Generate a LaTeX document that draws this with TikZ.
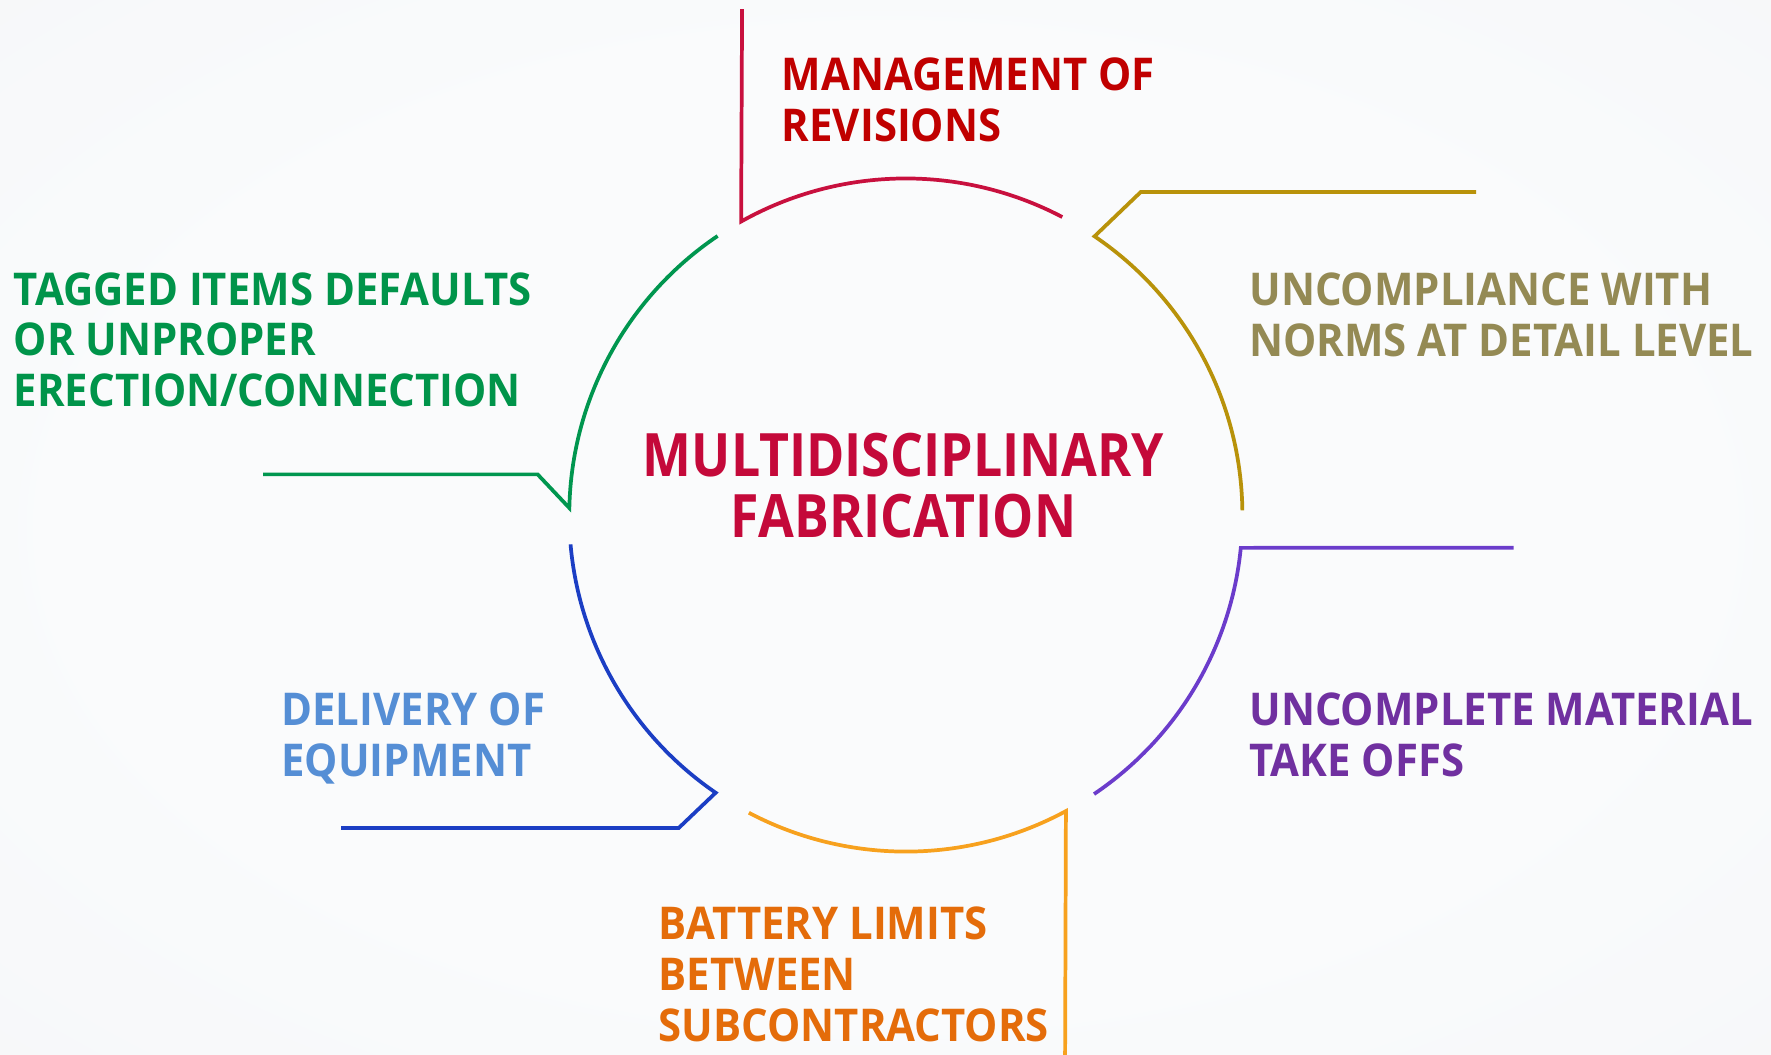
\documentclass[tikz,border=0pt]{standalone}
\usepackage{fontspec}
\setmainfont{Open Sans}
\newfontfamily\labfont{Open Sans}[FakeStretch=0.927]
\newfontfamily\ctrfont{Open Sans}[FakeStretch=0.866]
\definecolor{bgin}{HTML}{FAFBFC}
\definecolor{bgout}{HTML}{EEF0F2}
\definecolor{mgmttxt}{HTML}{C00000}
\definecolor{centertxt}{HTML}{C4093A}
\definecolor{redline}{HTML}{C8103E}
\definecolor{oliveline}{HTML}{B8920A}
\definecolor{olivetxt}{HTML}{948A54}
\definecolor{purpleline}{HTML}{6B3CCB}
\definecolor{purpletxt}{HTML}{7030A0}
\definecolor{orangeline}{HTML}{F7A11E}
\definecolor{orangetxt}{HTML}{E46C0A}
\definecolor{blueline}{HTML}{1B3EC4}
\definecolor{bluetxt}{HTML}{558ED5}
\definecolor{greenline}{HTML}{00964F}
\definecolor{greentxt}{HTML}{00944A}
\pgfdeclareradialshading{bgshade}{\pgfpoint{0bp}{0bp}}{color(0bp)=(bgin); color(22bp)=(bgin); color(72bp)=(bgout)}
\begin{document}
\begin{tikzpicture}[x=1pt,y=1pt,
  lab/.style={font=\labfont\bfseries\fontsize{40}{45}\selectfont, align=left, inner sep=0pt, anchor=north west},
  ctr/.style={font=\ctrfont\bfseries\fontsize{53}{54}\selectfont, align=center, inner sep=0pt, anchor=north, text=centertxt},
  seg/.style={line width=3.3pt, line join=miter}]
\useasboundingbox (0,0) rectangle (1568,934);
\shade[shading=bgshade] (0,0) rectangle (1568,934);
\def\R{298}
\coordinate (C) at (802,478);
% arc start points on the ring
\coordinate (a1) at ([shift={(119.3:\R)}]C);
\coordinate (a2) at ([shift={(55.9:\R)}]C);
\coordinate (a3) at ([shift={(-5.6:\R)}]C);
\coordinate (a4) at ([shift={(-61.6:\R)}]C);
\coordinate (a5) at ([shift={(-124.4:\R)}]C);
\coordinate (a6) at ([shift={(178.8:\R)}]C);
% connector points
\coordinate (t1) at (657,926);
\coordinate (o0) at (1307,764);
\coordinate (o1) at (1010,764);
\coordinate (p0) at (1340,449);
\coordinate (q0) at (943,0);
\coordinate (b0) at (302,201);
\coordinate (b1) at (601,201);
\coordinate (g0) at (233,514);
\coordinate (g1) at (476,514);
% segments
\draw[seg, redline] (t1) -- (a1) arc[start angle=119.3, end angle=62.3, radius=\R];
\draw[seg, oliveline] (o0) -- (o1) -- (a2) arc[start angle=55.9, end angle=0.8, radius=\R];
\draw[seg, purpleline] (p0) -- (a3) arc[start angle=-5.6, end angle=-56, radius=\R];
\draw[seg, orangeline] (q0) -- (a4) arc[start angle=-61.6, end angle=-117.8, radius=\R];
\draw[seg, blueline] (b0) -- (b1) -- (a5) arc[start angle=-124.4, end angle=-175, radius=\R];
\draw[seg, greenline] (g0) -- (g1) -- (a6) arc[start angle=178.8, end angle=124, radius=\R];
% labels
\node[ctr] (center) at (800,551) {MULTIDISCIPLINARY\\FABRICATION};
\node[lab, text=mgmttxt] (mgmt) at (692,883) {MANAGEMENT OF\\REVISIONS};
\node[lab, text=greentxt] (tagged) at (12,693) {TAGGED ITEMS DEFAULTS\\OR UNPROPER\\ERECTION/CONNECTION};
\node[lab, text=olivetxt] (norms) at (1106,693) {UNCOMPLIANCE WITH\\NORMS AT DETAIL LEVEL};
\node[lab, text=purpletxt] (mto) at (1106,321) {UNCOMPLETE MATERIAL\\TAKE OFFS};
\node[lab, text=bluetxt] (delivery) at (249,321) {DELIVERY OF\\EQUIPMENT};
\node[lab, text=orangetxt] (battery) at (583,131) {BATTERY LIMITS\\BETWEEN\\SUBCONTRACTORS};
\end{tikzpicture}
\end{document}
